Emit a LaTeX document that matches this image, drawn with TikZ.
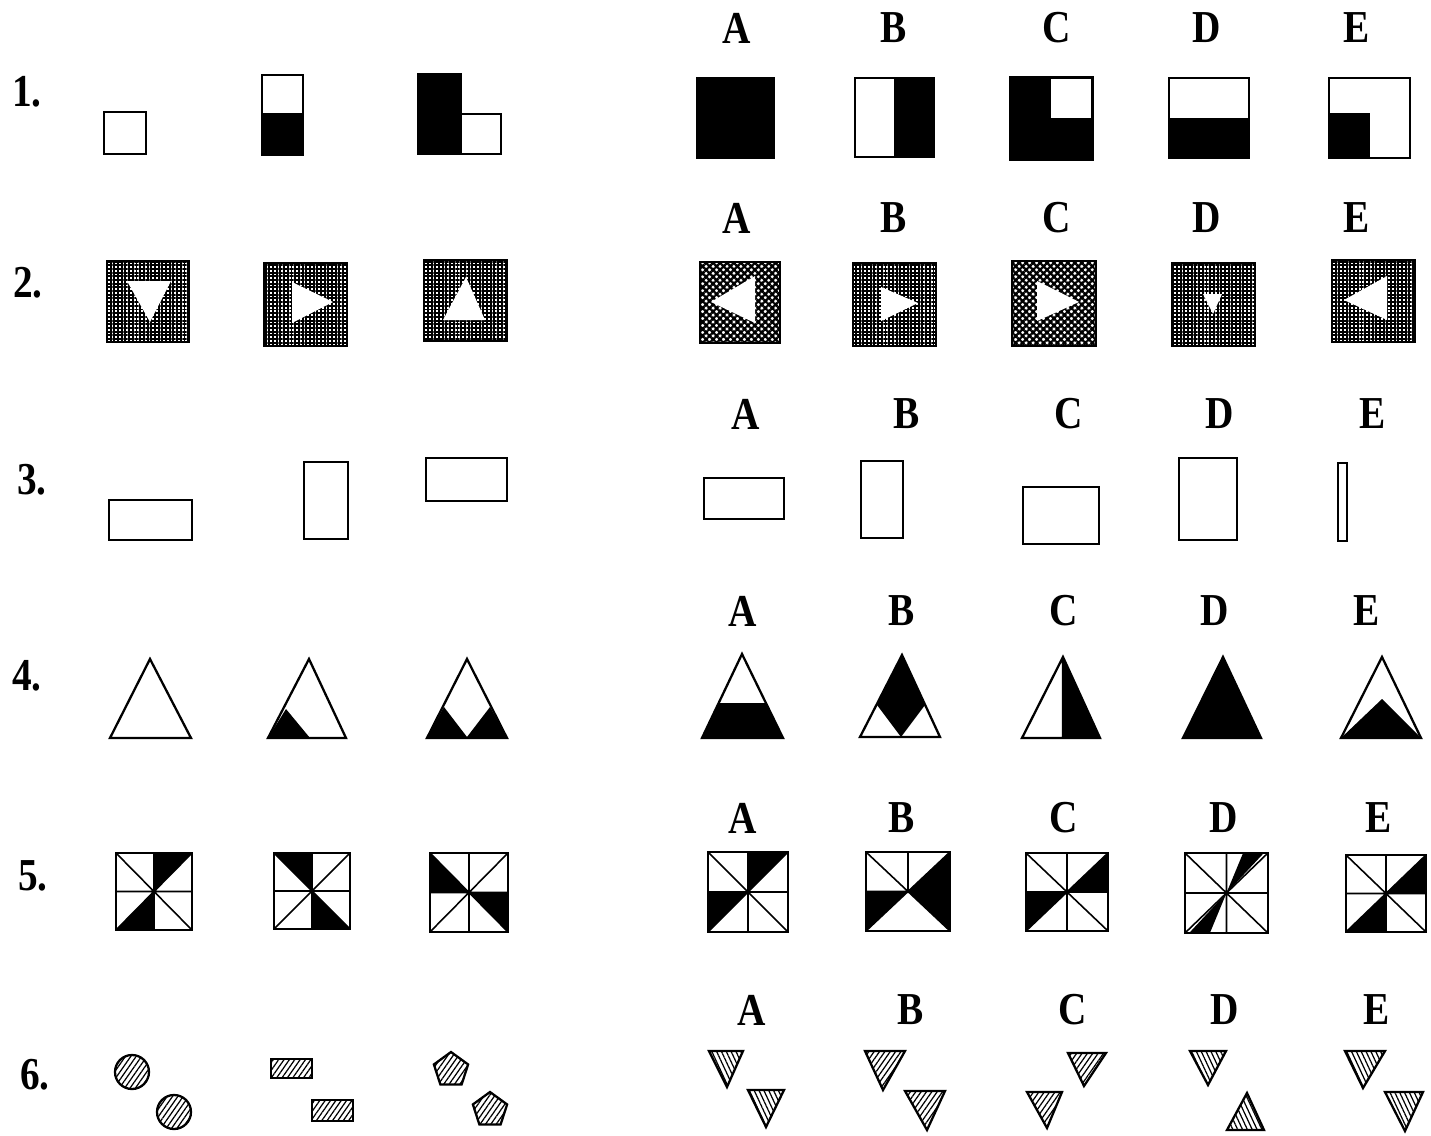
\documentclass[tikz,border=0pt]{standalone}
\usepackage{fontspec}
\setmainfont{Liberation Serif}
\newfontfamily\lblfont[FakeStretch=0.86]{Liberation Serif}
\usetikzlibrary{patterns.meta}

\newcommand{\octpts}{%
  \coordinate (o) at (.5,.5);
  \coordinate (p1) at (.5,0); \coordinate (p2) at (1,0);
  \coordinate (p3) at (1,.5); \coordinate (p4) at (1,1);
  \coordinate (p5) at (.5,1); \coordinate (p6) at (0,1);
  \coordinate (p7) at (0,.5); \coordinate (p8) at (0,0);
  \coordinate (p9) at (.5,0);}
\newcommand{\octbox}[5]{%
  \begin{scope}[shift={(#1,#2)},xscale=#3,yscale=#4]
    \octpts
    \foreach \a/\b in {#5} \fill (o)--(p\a)--(p\b)--cycle;
    \draw[inl] (p1)--(p5) (p3)--(p7) (p2)--(p6) (p4)--(p8);
    \draw[fig] (0,0) rectangle (1,1);
  \end{scope}}

\begin{document}
\begin{tikzpicture}[x=0.02cm,y=-0.02cm,
  lbl/.style={font=\lblfont\fontsize{26}{27}\selectfont\bfseries,inner sep=0pt},
  fig/.style={draw=black,line width=1.3pt},
  inl/.style={draw=black,line width=0.9pt},
  grd/.style={pattern={Hatch[angle=0,distance=2.1pt,line width=1.1pt]}},
  xgrd/.style={pattern={Hatch[angle=45,distance=2.8pt,line width=1.3pt]}},
  hne/.style={pattern={Lines[angle=55,distance=2.5pt,line width=0.7pt]}},
  hnw/.style={pattern={Lines[angle=115,distance=2.5pt,line width=0.7pt]}}
]
\useasboundingbox (0,0) rectangle (1431,1136);

\foreach \n/\x/\y in {1/27/92,2/28/283,3/32/480,4/27/676,5/33/876,6/35/1075}
  \node[lbl] (row\n) at (\x,\y) {\n.};
\foreach \r/\y/\xa/\xb/\xc/\xd/\xe in {1/28/737/894/1057/1207/1357,
    2/218/737/894/1057/1207/1357,3/414/746/907/1069/1220/1373,
    4/611/743/902/1064/1215/1367,5/818/743/902/1064/1224/1379,
    6/1010/752/911/1073/1225/1377}{
  \node[lbl] (a\r) at (\xa,\y) {A};
  \node[lbl] (b\r) at (\xb,\y) {B};
  \node[lbl] (c\r) at (\xc,\y) {C};
  \node[lbl] (d\r) at (\xd,\y) {D};
  \node[lbl] (e\r) at (\xe,\y) {E};
}

% row 1
\draw[fig] (104,112) rectangle (146,154);
\fill (262,114) rectangle (303,155);
\draw[fig] (262,75) rectangle (303,155) (262,114)--(303,114);
\fill (418,74) rectangle (461,154);
\draw[fig] (418,74) rectangle (461,154) (461,114) rectangle (501,154);
\draw[fig,fill=black] (697,78) rectangle (774,158);
\fill (894,78) rectangle (934,157);
\draw[fig] (855,78) rectangle (934,157);
\draw[fig,fill=black] (1010,77) rectangle (1093,160);
\fill[white] (1051,79) rectangle (1091,118);
\fill (1169,118) rectangle (1249,158);
\draw[fig] (1169,78) rectangle (1249,158);
\fill (1329,113) rectangle (1370,158);
\draw[fig] (1329,78) rectangle (1410,158);

% row 2
\draw[fig,grd] (107,261) rectangle (189,342);
\fill[white] (127,281)--(171,281)--(150,322)--cycle;
\draw[fig,grd] (264,263) rectangle (347,346);
\fill[white] (292,282)--(292,323)--(333,302)--cycle;
\draw[fig,grd] (424,260) rectangle (507,341);
\fill[white] (443,320)--(485,320)--(466,277)--cycle;
\draw[fig,xgrd] (700,262) rectangle (780,343);
\fill[white] (711,302)--(755,276)--(755,323)--cycle;
\draw[fig,grd] (853,263) rectangle (936,346);
\fill[white] (881,287)--(881,321)--(918,303)--cycle;
\draw[fig,xgrd] (1012,261) rectangle (1096,346);
\fill[white] (1037,281)--(1037,321)--(1079,302)--cycle;
\draw[fig,grd] (1172,263) rectangle (1255,346);
\fill[white] (1203,294)--(1222,294)--(1213,314)--cycle;
\draw[fig,grd] (1332,260) rectangle (1415,342);
\fill[white] (1344,300)--(1387,276)--(1387,320)--cycle;

% row 3
\draw[fig] (109,500) rectangle (192,540);
\draw[fig] (304,462) rectangle (348,539);
\draw[fig] (426,458) rectangle (507,501);
\draw[fig] (704,478) rectangle (784,519);
\draw[fig] (861,461) rectangle (903,538);
\draw[fig] (1023,487) rectangle (1099,544);
\draw[fig] (1179,458) rectangle (1237,540);
\draw[fig] (1338,463) rectangle (1347,541);

% row 4
\draw[fig] (150,659)--(191,738)--(110,738)--cycle;
\fill (268,738)--(286,709)--(310,738)--cycle;
\draw[fig] (309,659)--(346,738)--(268,738)--cycle;
\fill (427,738)--(444,707)--(467,737)--(490,707)--(507,738)--cycle;
\draw[fig] (467,659)--(507,738)--(427,738)--cycle;
\fill (702,738)--(719,703)--(766,703)--(783,738)--cycle;
\draw[fig] (742,654)--(783,738)--(702,738)--cycle;
\fill (902,655)--(877,705)--(901,737)--(925,705)--cycle;
\draw[fig] (902,655)--(940,737)--(860,737)--cycle;
\fill (1063,657)--(1100,738)--(1063,738)--cycle;
\draw[fig] (1063,657)--(1100,738)--(1022,738)--cycle (1063,657)--(1063,738);
\draw[fig,fill=black] (1223,657)--(1261,738)--(1183,738)--cycle;
\fill (1341,738)--(1382,699)--(1421,738)--cycle;
\draw[fig] (1382,657)--(1421,738)--(1341,738)--cycle;

% row 5
\octbox{116}{853}{76}{77}{1/2,5/6}
\octbox{274}{853}{76}{76}{8/9,4/5}
\octbox{430}{853}{78}{79}{7/8,3/4}
\octbox{708}{852}{80}{80}{1/2,6/7}
\begin{scope}[shift={(866,852)},xscale=84,yscale=79]
  \octpts
  \fill (o)--(p2)--(p4)--cycle (o)--(p6)--(p7)--cycle;
  \draw[inl] (p1)--(o)--(p7) (p8)--(p4) (p6)--(p2);
  \draw[fig] (0,0) rectangle (1,1);
\end{scope}
\octbox{1026}{853}{82}{78}{2/3,6/7}
\begin{scope}[shift={(1185,853)},xscale=83,yscale=80]
  \octpts
  \fill (o)--(.7,0)--(.95,0)--cycle (o)--(.05,1)--(.3,1)--cycle;
  \draw[inl] (p1)--(p5) (p3)--(p7) (p2)--(p6) (p4)--(p8);
  \draw[fig] (0,0) rectangle (1,1);
\end{scope}
\octbox{1346}{855}{80}{77}{2/3,5/6}

% row 6
\draw[fig,hne] (132,1072) circle (17);
\draw[fig,hne] (174,1112) circle (17);
\draw[fig,hne] (271,1059) rectangle (312,1078);
\draw[fig,hne] (312,1100) rectangle (353,1121);
\draw[fig,hne] (451,1070) +(-90:18)--+(-18:18)--+(54:18)--+(126:18)--+(198:18)--cycle;
\draw[fig,hne] (490,1110) +(-90:18)--+(-18:18)--+(54:18)--+(126:18)--+(198:18)--cycle;
\draw[fig,hnw] (709,1051)--(743,1051)--(727,1087)--cycle;
\draw[fig,hnw] (748,1090)--(784,1090)--(766,1127)--cycle;
\draw[fig,hne] (865,1051)--(905,1051)--(883,1090)--cycle;
\draw[fig,hne] (905,1091)--(945,1091)--(927,1130)--cycle;
\draw[fig,hne] (1068,1053)--(1106,1053)--(1084,1086)--cycle;
\draw[fig,hne] (1027,1092)--(1062,1092)--(1047,1128)--cycle;
\draw[fig,hnw] (1190,1051)--(1226,1051)--(1208,1085)--cycle;
\draw[fig,hnw] (1227,1130)--(1264,1130)--(1247,1093)--cycle;
\draw[fig,hnw] (1345,1051)--(1385,1051)--(1363,1088)--cycle;
\draw[fig,hnw] (1385,1092)--(1423,1092)--(1405,1131)--cycle;
\end{tikzpicture}
\end{document}
